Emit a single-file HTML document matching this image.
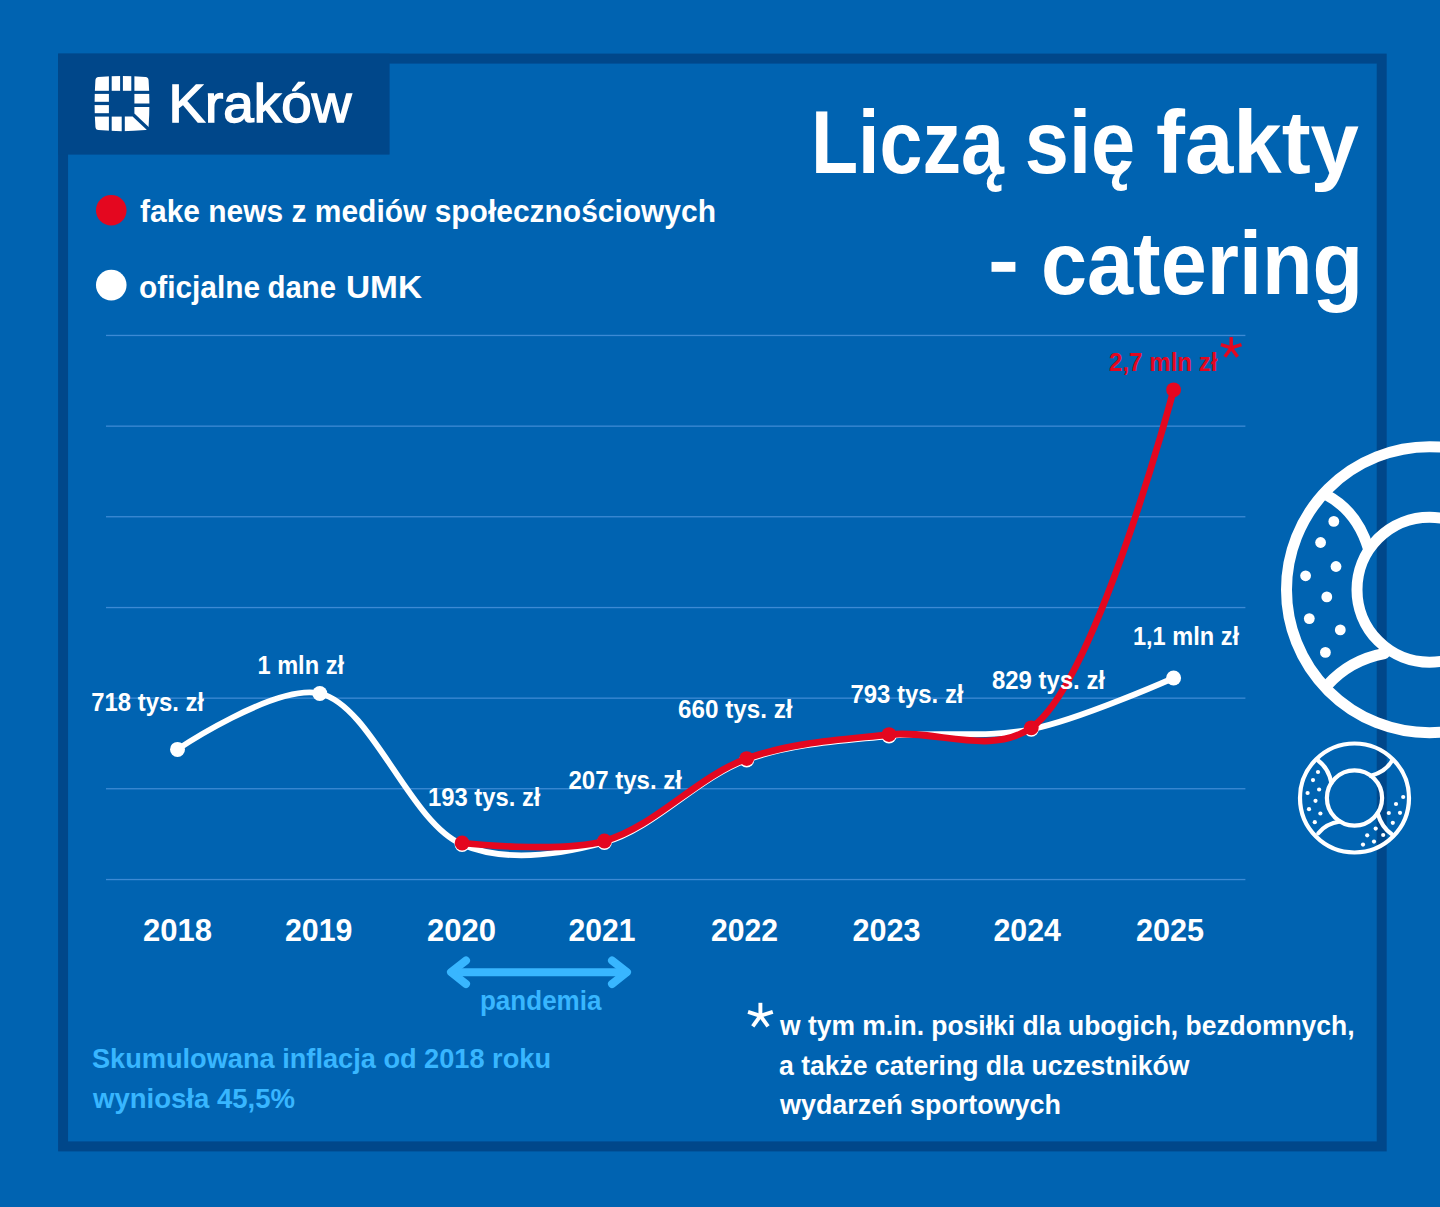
<!DOCTYPE html>
<html lang="pl"><head><meta charset="utf-8"><title>Liczą się fakty - catering</title>
<style>html,body{margin:0;padding:0;background:#0063b1;}body{width:1440px;height:1207px;overflow:hidden;font-family:"Liberation Sans",sans-serif;}svg{display:block;}text{font-family:"Liberation Sans",sans-serif;}</style>
</head><body>
<svg width="1440" height="1207" viewBox="0 0 1440 1207">
<rect width="1440" height="1207" fill="#0063b1"/>
<filter id="soft" x="-2%%" y="-2%%" width="104%%" height="104%%"><feGaussianBlur stdDeviation="0.6"/></filter>
<g filter="url(#soft)">
<rect x="63.1" y="58.6" width="1318.6" height="1087.8" fill="none" stroke="#02478a" stroke-width="10"/>
<rect x="58.1" y="53.6" width="331.5" height="101" fill="#02478a"/>
</g>
<clipPath id="sq"><path d="M95.4,80.5 Q95.5,77.4 98.6,77.1 Q122,74.9 145.4,77.1 Q148.5,77.4 148.6,80.5 Q150.2,103.5 148.6,126.7 Q148.5,129.8 145.4,130.1 Q122,132.3 98.6,130.1 Q95.5,129.8 95.4,126.7 Q93.8,103.5 95.4,80.5 Z"/></clipPath>
<g clip-path="url(#sq)" fill="#fff">
<rect x="94" y="75" width="14.9" height="15.8"/>
<rect x="111.7" y="75" width="8.4" height="15.8"/>
<rect x="122.9" y="75" width="8.4" height="15.8"/>
<rect x="134.4" y="75" width="16" height="15.8"/>
<rect x="94" y="93.9" width="14.9" height="7.9"/>
<rect x="94" y="105.1" width="14.9" height="8.1"/>
<rect x="134.4" y="93.9" width="16" height="9.6"/>
<polygon points="134.4,107 150,107 150,128.2 134.4,113.6"/>
<rect x="94" y="116.6" width="14.9" height="16"/>
<rect x="111.7" y="116.6" width="10" height="16"/>
<polygon points="124.8,116.6 132.6,116.6 147.5,130.6 147.5,133 124.8,133"/>
</g>
<circle cx="111.25" cy="210.25" r="15.3" fill="#e4071f"/>
<circle cx="111.25" cy="285.1" r="15.3" fill="#fff"/>
<rect x="106" y="334.8" width="1139.4" height="1.3" fill="#3c8ad4"/>
<rect x="106" y="425.5" width="1139.4" height="1.3" fill="#3c8ad4"/>
<rect x="106" y="516.1" width="1139.4" height="1.3" fill="#3c8ad4"/>
<rect x="106" y="606.9" width="1139.4" height="1.3" fill="#3c8ad4"/>
<rect x="106" y="697.5" width="1139.4" height="1.3" fill="#3c8ad4"/>
<rect x="106" y="788.1" width="1139.4" height="1.3" fill="#3c8ad4"/>
<rect x="106" y="878.9" width="1139.4" height="1.3" fill="#3c8ad4"/>
<path d="M177.50,749.40 C177.50,749.40 275.47,683.57 319.80,693.50 C371.44,705.07 409.28,822.14 462.10,844.50 C505.84,863.02 558.56,855.17 604.40,842.50 C653.68,828.88 697.61,777.71 746.70,760.00 C792.68,743.41 841.41,741.11 889.00,736.00 C936.28,730.92 984.56,738.61 1031.30,729.30 C1079.47,719.71 1173.60,678.00 1173.60,678.00" fill="none" stroke="#fff" stroke-width="5.8" stroke-linecap="round" stroke-linejoin="round"/>
<circle cx="177.5" cy="749.4" r="7.5" fill="#fff"/>
<circle cx="319.8" cy="693.5" r="7.5" fill="#fff"/>
<circle cx="462.1" cy="844.5" r="7.5" fill="#fff"/>
<circle cx="604.4" cy="842.5" r="7.5" fill="#fff"/>
<circle cx="746.7" cy="760.0" r="7.5" fill="#fff"/>
<circle cx="889.0" cy="736.0" r="7.5" fill="#fff"/>
<circle cx="1031.3" cy="729.3" r="7.5" fill="#fff"/>
<circle cx="1173.6" cy="678.0" r="7.5" fill="#fff"/>
<path d="M462.10,843.00 C462.10,843.00 558.56,853.66 604.40,841.00 C653.67,827.39 697.61,776.29 746.70,758.60 C792.68,742.02 841.41,739.73 889.00,734.60 C936.28,729.50 990.73,756.16 1031.30,727.80 C1096.40,682.30 1173.60,389.80 1173.60,389.80" fill="none" stroke="#e4071f" stroke-width="6.7" stroke-linecap="round" stroke-linejoin="round"/>
<circle cx="462.1" cy="843.0" r="7.4" fill="#e4071f"/>
<circle cx="604.4" cy="841.0" r="7.4" fill="#e4071f"/>
<circle cx="746.7" cy="758.6" r="7.4" fill="#e4071f"/>
<circle cx="889.0" cy="734.6" r="7.4" fill="#e4071f"/>
<circle cx="1031.3" cy="727.8" r="7.4" fill="#e4071f"/>
<circle cx="1173.6" cy="389.8" r="7.4" fill="#e4071f"/>
<text x="168.45" y="121.70" font-size="54" font-weight="normal" fill="#fff" stroke="#fff" stroke-width="1.5" textLength="183.04" lengthAdjust="spacingAndGlyphs">Kraków</text>
<text x="810.89" y="172.80" font-size="88.5" font-weight="bold" fill="#fff" textLength="193.09" lengthAdjust="spacingAndGlyphs">Liczą</text>
<text x="1024.85" y="172.80" font-size="88.5" font-weight="bold" fill="#fff" textLength="110.25" lengthAdjust="spacingAndGlyphs">się</text>
<text x="1155.99" y="172.80" font-size="88.5" font-weight="bold" fill="#fff" textLength="203.01" lengthAdjust="spacingAndGlyphs">fakty</text>
<text x="1040.91" y="294.00" font-size="88.5" font-weight="bold" fill="#fff" textLength="322.24" lengthAdjust="spacingAndGlyphs">catering</text>
<text x="140.00" y="221.60" font-size="31" font-weight="bold" fill="#fff" textLength="576.00" lengthAdjust="spacingAndGlyphs">fake news z mediów społecznościowych</text>
<text x="138.98" y="297.90" font-size="31" font-weight="bold" fill="#fff" textLength="121.04" lengthAdjust="spacingAndGlyphs">oficjalne</text>
<text x="267.47" y="297.90" font-size="31" font-weight="bold" fill="#fff" textLength="68.55" lengthAdjust="spacingAndGlyphs">dane</text>
<text x="345.96" y="297.90" font-size="31" font-weight="bold" fill="#fff" textLength="76.06" lengthAdjust="spacingAndGlyphs">UMK</text>
<text x="91.25" y="711.00" font-size="25" font-weight="bold" fill="#fff" textLength="112.76" lengthAdjust="spacingAndGlyphs">718 tys. zł</text>
<text x="257.48" y="674.00" font-size="25" font-weight="bold" fill="#fff" textLength="86.52" lengthAdjust="spacingAndGlyphs">1 mln zł</text>
<text x="427.98" y="805.90" font-size="25" font-weight="bold" fill="#fff" textLength="112.52" lengthAdjust="spacingAndGlyphs">193 tys. zł</text>
<text x="568.49" y="788.50" font-size="25" font-weight="bold" fill="#fff" textLength="113.51" lengthAdjust="spacingAndGlyphs">207 tys. zł</text>
<text x="677.98" y="717.70" font-size="25" font-weight="bold" fill="#fff" textLength="114.52" lengthAdjust="spacingAndGlyphs">660 tys. zł</text>
<text x="850.49" y="702.70" font-size="25" font-weight="bold" fill="#fff" textLength="113.01" lengthAdjust="spacingAndGlyphs">793 tys. zł</text>
<text x="992.00" y="688.75" font-size="25" font-weight="bold" fill="#fff" textLength="113.01" lengthAdjust="spacingAndGlyphs">829 tys. zł</text>
<text x="1132.97" y="645.00" font-size="25" font-weight="bold" fill="#fff" textLength="106.03" lengthAdjust="spacingAndGlyphs">1,1 mln zł</text>
<text x="1109.00" y="371.00" font-size="25" font-weight="bold" fill="#e4071f" textLength="108.51" lengthAdjust="spacingAndGlyphs">2,7 mln zł</text>
<text x="142.96" y="941.20" font-size="31" font-weight="bold" fill="#fff" textLength="69.09" lengthAdjust="spacingAndGlyphs">2018</text>
<text x="284.96" y="941.20" font-size="31" font-weight="bold" fill="#fff" textLength="67.56" lengthAdjust="spacingAndGlyphs">2019</text>
<text x="426.98" y="941.20" font-size="31" font-weight="bold" fill="#fff" textLength="69.07" lengthAdjust="spacingAndGlyphs">2020</text>
<text x="568.48" y="941.20" font-size="31" font-weight="bold" fill="#fff" textLength="67.04" lengthAdjust="spacingAndGlyphs">2021</text>
<text x="710.98" y="941.20" font-size="31" font-weight="bold" fill="#fff" textLength="67.03" lengthAdjust="spacingAndGlyphs">2022</text>
<text x="852.48" y="941.20" font-size="31" font-weight="bold" fill="#fff" textLength="68.04" lengthAdjust="spacingAndGlyphs">2023</text>
<text x="993.48" y="941.20" font-size="31" font-weight="bold" fill="#fff" textLength="67.53" lengthAdjust="spacingAndGlyphs">2024</text>
<text x="1135.97" y="941.20" font-size="31" font-weight="bold" fill="#fff" textLength="68.06" lengthAdjust="spacingAndGlyphs">2025</text>
<text x="479.98" y="1009.80" font-size="27" font-weight="bold" fill="#38b6ff" textLength="121.51" lengthAdjust="spacingAndGlyphs">pandemia</text>
<text x="91.99" y="1068.20" font-size="28" font-weight="bold" fill="#38b6ff" textLength="459.02" lengthAdjust="spacingAndGlyphs">Skumulowana inflacja od 2018 roku</text>
<text x="93.00" y="1108.10" font-size="28" font-weight="bold" fill="#38b6ff" textLength="202.00" lengthAdjust="spacingAndGlyphs">wyniosła 45,5%</text>
<text x="780.00" y="1034.70" font-size="28" font-weight="bold" fill="#fff" textLength="574.50" lengthAdjust="spacingAndGlyphs">w tym m.in. posiłki dla ubogich, bezdomnych,</text>
<text x="779.00" y="1074.80" font-size="28" font-weight="bold" fill="#fff" textLength="410.50" lengthAdjust="spacingAndGlyphs">a także catering dla uczestników</text>
<text x="780.00" y="1114.30" font-size="28" font-weight="bold" fill="#fff" textLength="281.01" lengthAdjust="spacingAndGlyphs">wydarzeń sportowych</text>
<rect x="991.5" y="261.9" width="23.9" height="9.9" fill="#fff"/>
<g stroke="#e4071f" stroke-width="3.4" stroke-linecap="butt"><line x1="1231.20" y1="347.90" x2="1231.20" y2="337.10"/><line x1="1231.20" y1="347.90" x2="1241.47" y2="344.56"/><line x1="1231.20" y1="347.90" x2="1237.55" y2="356.64"/><line x1="1231.20" y1="347.90" x2="1224.85" y2="356.64"/><line x1="1231.20" y1="347.90" x2="1220.93" y2="344.56"/></g>
<g stroke="#fff" stroke-width="3.9" stroke-linecap="butt"><line x1="760.40" y1="1015.80" x2="760.40" y2="1002.80"/><line x1="760.40" y1="1015.80" x2="772.76" y2="1011.78"/><line x1="760.40" y1="1015.80" x2="768.04" y2="1026.32"/><line x1="760.40" y1="1015.80" x2="752.76" y2="1026.32"/><line x1="760.40" y1="1015.80" x2="748.04" y2="1011.78"/></g>
<g fill="none" stroke="#38b6ff" stroke-width="8" stroke-linecap="round" stroke-linejoin="round">
<path d="M452,972.2 H626"/>
<path d="M466,960.5 L451,972.2 L466,984"/>
<path d="M612,960.5 L627,972.2 L612,984"/>
</g>
<g fill="none" stroke="#fff" stroke-width="11" stroke-linecap="round">
<circle cx="1429.5" cy="589.7" r="143"/>
<circle cx="1429.5" cy="589.7" r="72.5"/>
<path d="M1326.5,495 Q1357,511 1368.5,549"/>
<path d="M1327.5,685 Q1350,660 1384.5,653.5"/>
</g>
<g fill="#fff">
<circle cx="1333.8" cy="521.4" r="5.4"/>
<circle cx="1320.6" cy="542.5" r="5.4"/>
<circle cx="1336.0" cy="566.5" r="5.4"/>
<circle cx="1305.6" cy="575.8" r="5.4"/>
<circle cx="1326.8" cy="596.9" r="5.4"/>
<circle cx="1309.3" cy="618.6" r="5.4"/>
<circle cx="1340.3" cy="629.9" r="5.4"/>
<circle cx="1325.4" cy="652.4" r="5.4"/>
</g>
<g fill="none" stroke="#fff" stroke-width="4.2" stroke-linecap="round">
<circle cx="1354.5" cy="798" r="54.5"/>
<circle cx="1354.5" cy="798" r="27.6"/>
<path d="M1318.3,760.7 Q1328.5,768 1331.4,782.9"/>
<path d="M1392,760.7 Q1386,771.5 1370.9,775.8"/>
<path d="M1377.6,813.1 Q1381.5,827 1391.5,834"/>
<path d="M1318.3,833.2 Q1326,823.5 1340,821.5"/>
</g>
<g fill="#fff">
<circle cx="1318.0" cy="772.0" r="2.1"/>
<circle cx="1313.0" cy="780.1" r="2.1"/>
<circle cx="1319.1" cy="789.5" r="2.1"/>
<circle cx="1307.6" cy="793.0" r="2.1"/>
<circle cx="1315.5" cy="800.8" r="2.1"/>
<circle cx="1309.0" cy="809.2" r="2.1"/>
<circle cx="1320.4" cy="813.5" r="2.1"/>
<circle cx="1314.8" cy="822.2" r="2.1"/>
<circle cx="1403.2" cy="797.0" r="2.1"/>
<circle cx="1396.0" cy="804.0" r="2.1"/>
<circle cx="1388.8" cy="813.0" r="2.1"/>
<circle cx="1400.0" cy="812.8" r="2.1"/>
<circle cx="1392.8" cy="822.8" r="2.1"/>
<circle cx="1375.7" cy="828.6" r="2.1"/>
<circle cx="1383.2" cy="835.0" r="2.1"/>
<circle cx="1367.2" cy="835.3" r="2.1"/>
<circle cx="1374.0" cy="841.6" r="2.1"/>
<circle cx="1363.0" cy="844.6" r="2.1"/>
</g>
</svg></body></html>
